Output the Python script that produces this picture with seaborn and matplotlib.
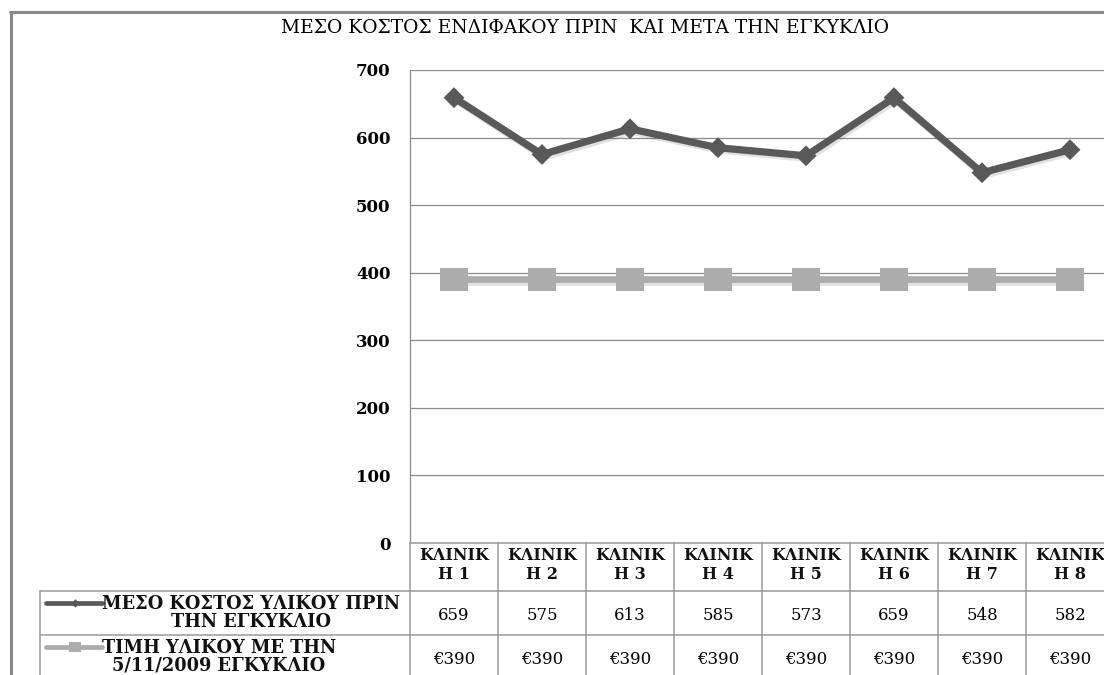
import textwrap

import matplotlib
matplotlib.use("Agg")
import matplotlib.pyplot as plt
import matplotlib.patheffects as pe
from matplotlib.lines import Line2D
from matplotlib.transforms import blended_transform_factory
import pandas as pd
import seaborn as sns

# ---- data -------------------------------------------------------------
title = "ΜΕΣΟ ΚΟΣΤΟΣ ΕΝΔΙΦΑΚΟΥ ΠΡΙΝ  ΚΑΙ ΜΕΤΑ ΤΗΝ ΕΓΚΥΚΛΙΟ"
categories = ["ΚΛΙΝΙΚΗ 1", "ΚΛΙΝΙΚΗ 2", "ΚΛΙΝΙΚΗ 3", "ΚΛΙΝΙΚΗ 4",
              "ΚΛΙΝΙΚΗ 5", "ΚΛΙΝΙΚΗ 6", "ΚΛΙΝΙΚΗ 7", "ΚΛΙΝΙΚΗ 8"]
before_name = "ΜΕΣΟ ΚΟΣΤΟΣ ΥΛΙΚΟΥ ΠΡΙΝ\nΤΗΝ ΕΓΚΥΚΛΙΟ"
before_cost = [659, 575, 613, 585, 573, 659, 548, 582]
after_name = "ΤΙΜΗ ΥΛΙΚΟΥ ΜΕ ΤΗΝ\n5/11/2009 ΕΓΚΥΚΛΙΟ"
after_price = [390, 390, 390, 390, 390, 390, 390, 390]
y_ticks = [0, 100, 200, 300, 400, 500, 600, 700]

# ---- style ------------------------------------------------------------
sns.set_theme(style="white")
plt.rcParams["font.family"] = ["DejaVu Serif", "Liberation Serif"]

DARK = "#595959"
LIGHT = "#acacac"
GRID = "#8c8c8c"
TABLE = "#9a9a9a"
FRAME = "#8a8a8a"

W, H = 1104, 675
fig = plt.figure(figsize=(W / 100, H / 100), dpi=100)
fig.patch.set_facecolor("white")


def fx(px):
    return px / W


def fy(py):
    return 1 - py / H


ax = fig.add_axes([fx(410), fy(543), 704 / W, 473 / H])

df = pd.DataFrame({
    "pos": list(range(len(categories))),
    "before": before_cost,
    "after": after_price,
})

diamond = [(0, 1), (1, 0), (0, -1), (-1, 0), (0, 1)]
wide_square = [(-1.2, -1), (1.2, -1), (1.2, 1), (-1.2, 1), (-1.2, -1)]
shadow = [pe.SimpleLineShadow(offset=(1.2, -1.8), shadow_color="k", alpha=0.13),
          pe.Normal()]

sns.lineplot(data=df, x="pos", y="before", ax=ax, color=DARK, lw=5.2,
             marker=diamond, markersize=15, markeredgewidth=0,
             markerfacecolor=DARK, sort=False, errorbar=None,
             path_effects=shadow, zorder=3)
sns.lineplot(data=df, x="pos", y="after", ax=ax, color=LIGHT, lw=4.8,
             marker=wide_square, markersize=19.5, markeredgewidth=0,
             markerfacecolor=LIGHT, sort=False, errorbar=None,
             path_effects=shadow, zorder=3)

ax.set_xlim(-0.5, len(categories) - 0.5)
ax.set_ylim(y_ticks[0], y_ticks[-1])
ax.set_xlabel("")
ax.set_ylabel("")

ax.set_yticks(y_ticks)
ax.set_yticklabels([str(v) for v in y_ticks], fontsize=12, fontweight="bold",
                   color="black")
ax.tick_params(axis="y", length=0, pad=14)

ax.set_xticks(df["pos"])
ax.set_xticklabels([textwrap.fill(c, 6) for c in categories], fontsize=11.5,
                   fontweight="bold", color="#111111", linespacing=1.15)
ax.tick_params(axis="x", length=0, pad=3)

ax.yaxis.grid(True, color=GRID, lw=0.9)
ax.set_axisbelow(True)
for side in ("top", "right"):
    ax.spines[side].set_visible(False)
ax.spines["left"].set_color(GRID)
ax.spines["left"].set_linewidth(0.9)
ax.spines["bottom"].set_color(TABLE)
ax.spines["bottom"].set_linewidth(1.1)

# ---- data table under the plot ---------------------------------------
xdata_yfig = blended_transform_factory(ax.transData, fig.transFigure)

# column separators
for b in [p - 0.5 for p in df["pos"]] + [len(categories) - 0.5]:
    fig.add_artist(Line2D([b, b], [fy(543), fy(H)], transform=xdata_yfig,
                          color=TABLE, lw=1.1, clip_on=False))
# row separators and left edge of the legend column
for row_y in (591, 635):
    fig.add_artist(Line2D([fx(40), 1], [fy(row_y), fy(row_y)],
                          transform=fig.transFigure, color=TABLE, lw=1.1))
fig.add_artist(Line2D([fx(40), fx(40)], [fy(591), fy(H)],
                      transform=fig.transFigure, color=TABLE, lw=1.1))

# cell values
for p, v in zip(df["pos"], df["before"]):
    fig.text(p, fy(616), f"{v}", transform=xdata_yfig, ha="center",
             va="center", fontsize=12, color="black")
for p, v in zip(df["pos"], df["after"]):
    fig.text(p, fy(660), f"€{v}", transform=xdata_yfig, ha="center",
             va="center", fontsize=12, color="black")

# legend keys and series names
fig.add_artist(Line2D([fx(46), fx(75), fx(102)], [fy(603)] * 3,
                      transform=fig.transFigure, color=DARK, lw=3.4,
                      marker=diamond, markevery=[1], markersize=6,
                      markeredgewidth=0))
fig.add_artist(Line2D([fx(46), fx(75), fx(102)], [fy(647)] * 3,
                      transform=fig.transFigure, color=LIGHT, lw=3.4,
                      marker=wide_square, markevery=[1], markersize=9,
                      markeredgewidth=0))
fig.text(fx(102), fy(613), before_name, ha="left", va="center",
         multialignment="center", fontsize=12.8, fontweight="bold",
         linespacing=1.0, color="#111111")
fig.text(fx(102), fy(657), after_name, ha="left", va="center",
         multialignment="center", fontsize=12.8, fontweight="bold",
         linespacing=1.0, color="#111111")

# chart title and outer frame
fig.text(fx(585), fy(28), title, ha="center", va="center", fontsize=13.5,
         color="black")
fig.add_artist(Line2D([fx(11), fx(11)], [fy(12), 0],
                      transform=fig.transFigure, color=FRAME, lw=2.2))
fig.add_artist(Line2D([fx(10), 1], [fy(12), fy(12)],
                      transform=fig.transFigure, color=FRAME, lw=2.2))

fig.savefig("out.png", dpi=100)
